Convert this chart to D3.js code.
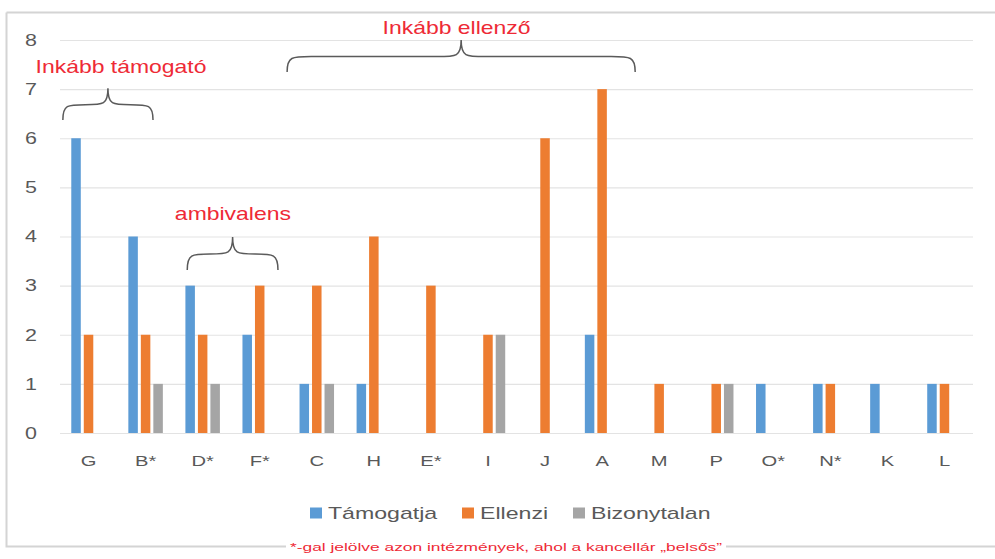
<!DOCTYPE html>
<html><head><meta charset="utf-8">
<script src="https://cdn.jsdelivr.net/npm/d3@7"></script>
<style>body{margin:0;background:#fff;} text{font-family:"Liberation Sans",Arial,sans-serif;}</style>
</head><body><svg id="c" width="995" height="559"></svg>
<script>
const categories = ["G","B*","D*","F*","C","H","E*","I","J","A","M","P","O*","N*","K","L"];
const seriesNames = ["Támogatja","Ellenzi","Bizonytalan"];
const tamogatja   = [6,4,3,2,1,1,0,0,0,2,0,0,1,1,1,1];
const ellenzi     = [2,2,2,3,3,4,3,2,6,7,1,1,0,1,0,1];
const bizonytalan = [0,1,1,0,1,0,0,2,0,0,0,1,0,0,0,0];
const yTicks = [0,1,2,3,4,5,6,7,8];
const colors = ["#5b9bd5","#ed7d31","#a5a5a5"];
// brace spans in category-index units, levels in value units
const annLabels = ["Inkább  támogató", "Inkább  ellenző", "ambivalens"];
const annFrom   = [-0.45, 3.48, 1.73];
const annTo     = [1.13, 9.58, 3.32];
const annBase   = [6.37, 7.35, 3.32];
const annTip    = [7.02, 8.0, 3.99];
const annTextX  = [0.57, 6.45, 2.53];
const annTextY  = [7.45, 8.26, 4.46];
const footnote = "*-gal jelölve  azon  intézmények,  ahol  a  kancellár  „belsős”";

const series = [tamogatja, ellenzi, bizonytalan];
const svg = d3.select("#c");
const M = {l:60, r:22, t:40, b:126};
const W = 995, H = 559;
const SX = 1.3; // horizontal stretch of the source picture

function stretch(sel, f){
  sel.each(function(){
    const l = this.getComputedTextLength();
    this.setAttribute("textLength", l*f);
    this.setAttribute("lengthAdjust","spacingAndGlyphs");
  });
}

// frame
svg.append("path").attr("d","M6.5,12.5 H995 M6.5,12.5 V546.5 H995")
  .attr("fill","none").attr("stroke","#d4d4d4").attr("stroke-width",2);

const x = d3.scaleBand().domain(categories).range([M.l, W-M.r]).paddingInner(0).paddingOuter(0);
const xi = d3.scaleLinear().domain([-0.5, categories.length-0.5]).range([M.l, W-M.r]);
const y = d3.scaleLinear().domain([0,8]).range([H-M.b, M.t]);

// gridlines
svg.append("g").attr("transform",`translate(${M.l},0)`)
  .call(d3.axisLeft(y).tickValues(yTicks).tickSize(-(W-M.r-M.l)).tickFormat(""))
  .call(g=>g.select(".domain").remove())
  .call(g=>g.selectAll("line").attr("stroke","#e3e3e3").attr("stroke-width",1.2));

// y labels
svg.append("g").attr("transform",`translate(${M.l},0)`)
  .call(d3.axisLeft(y).tickValues(yTicks).tickSize(0).tickPadding(23).tickFormat(d3.format("d")))
  .call(g=>g.select(".domain").remove())
  .call(g=>{g.selectAll("text").attr("fill","#595959").attr("font-size",16.5); stretch(g.selectAll("text"),SX);});

// x labels
svg.append("g").attr("transform",`translate(0,${y(0)})`)
  .call(d3.axisBottom(x).tickSize(0).tickPadding(22))
  .call(g=>g.select(".domain").remove())
  .call(g=>{g.selectAll("text").attr("fill","#595959").attr("font-size",15.5); stretch(g.selectAll("text"),SX);});

// bars
const pitch = 12.5, bw = 9.5;
series.forEach((vals,si)=>{
  svg.append("g").selectAll("rect").data(categories.map((c,i)=>({c,v:vals[i]})).filter(d=>d.v>0))
    .join("rect")
    .attr("x",d=>x(d.c)+x.bandwidth()/2+(si-1)*pitch-bw/2)
    .attr("width",bw)
    .attr("y",d=>y(d.v))
    .attr("height",d=>y(0)-y(d.v))
    .attr("fill",colors[si]);
});

// braces & annotation text
function brace(x1,x2,yb,yt){
  const xm=(x1+x2)/2, ym=yb-(yb-yt)*0.48, r=Math.min(16,(x2-x1)/6);
  return `M${x1},${yb} C${x1},${ym} ${x1+r*0.3},${ym} ${x1+r*1.5},${ym} L${xm-r*1.5},${ym} C${xm-r*0.3},${ym} ${xm},${ym} ${xm},${yt} C${xm},${ym} ${xm+r*0.3},${ym} ${xm+r*1.5},${ym} L${x2-r*1.5},${ym} C${x2-r*0.3},${ym} ${x2},${ym} ${x2},${yb}`;
}
annLabels.forEach((t,i)=>{
  svg.append("path").attr("d",brace(xi(annFrom[i]),xi(annTo[i]),y(annBase[i]),y(annTip[i])))
    .attr("fill","none").attr("stroke","#5a5a5a").attr("stroke-width",1.5);
  svg.append("text").attr("x",xi(annTextX[i])).attr("y",y(annTextY[i])).attr("text-anchor","middle").attr("dy","0.35em")
    .attr("fill","#ee2a36").attr("font-size",18.5).text(t)
    .call(s=>stretch(s,1.24));
});

// legend
const legX = [310, 462, 573];
const lg = svg.append("g").attr("transform","translate(0,513)");
seriesNames.forEach((n,i)=>{
  lg.append("rect").attr("x",legX[i]).attr("y",-5.5).attr("width",12).attr("height",11).attr("fill",colors[i]);
  lg.append("text").attr("x",legX[i]+18).attr("y",0).attr("dy","0.35em").attr("fill","#595959").attr("font-size",17).text(n)
    .call(s=>stretch(s,1.36));
});

// footnote
svg.append("rect").attr("x",286).attr("y",540).attr("width",440).attr("height",12).attr("fill","#fff");
svg.append("text").attr("x",290).attr("y",551).attr("fill","#ee2a36").attr("font-size",11.5)
  .attr("textLength",432).attr("lengthAdjust","spacingAndGlyphs").text(footnote);
</script></body></html>
